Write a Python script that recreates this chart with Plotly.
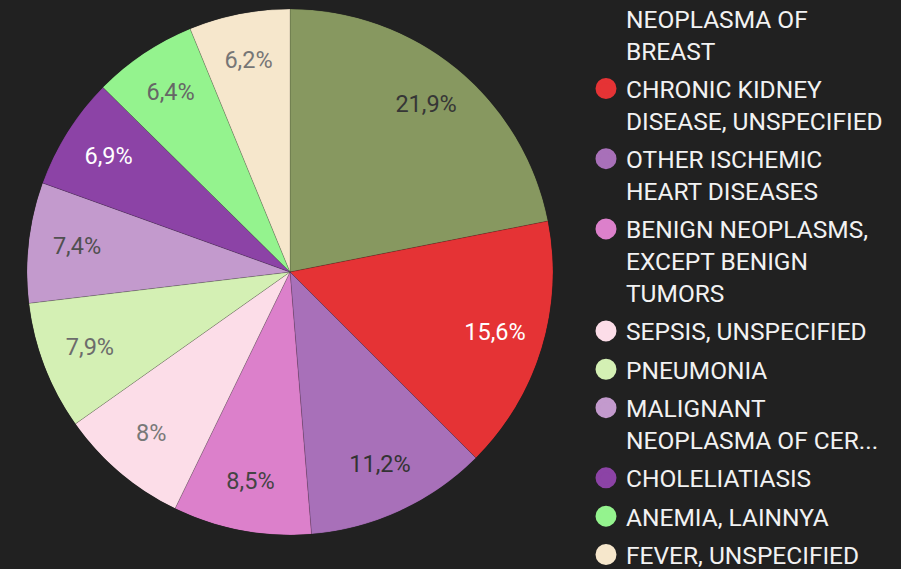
import plotly.graph_objects as go

categories = [
    "MALIGNANT<br>NEOPLASMA OF<br>BREAST",
    "CHRONIC KIDNEY<br>DISEASE, UNSPECIFIED",
    "OTHER ISCHEMIC<br>HEART DISEASES",
    "BENIGN NEOPLASMS,<br>EXCEPT BENIGN<br>TUMORS",
    "SEPSIS, UNSPECIFIED",
    "PNEUMONIA",
    "MALIGNANT<br>NEOPLASMA OF CER...",
    "CHOLELIATIASIS",
    "ANEMIA, LAINNYA",
    "FEVER, UNSPECIFIED",
]
values = [21.9, 15.6, 11.2, 8.5, 8.0, 7.9, 7.4, 6.9, 6.4, 6.2]
colors = ["#879860", "#E53335", "#A870B9", "#DC80CB", "#FCDDE8",
          "#D4F0B4", "#C39ACD", "#8C43A6", "#94F38E", "#F6E7CC"]
label_colors = ["#363636", "#FFFFFF", "#333333", "#444444", "#787878",
                "#6C6C6C", "#505050", "#FFFFFF", "#666666", "#767676"]

pct_text = [f"{v:g}".replace(".", ",") + "%" for v in values]

# angular geometry of the slices (degrees, clockwise from 12 o'clock)
total = sum(values)
widths = [v / total * 360 for v in values]
mids = []
acc = 0.0
for w in widths:
    mids.append(acc + w / 2)
    acc += w

W, H = 901, 569
fig = go.Figure()
fig.add_trace(go.Barpolar(
    r=[1] * len(values), theta=mids, width=widths, base=0,
    marker=dict(color=colors, line=dict(color="rgba(0,0,0,0.25)", width=0.6)),
    showlegend=False, hoverinfo="skip",
))
fig.add_trace(go.Scatterpolar(
    r=[0.815] * len(values), theta=mids, mode="text", text=pct_text,
    textposition="middle center",
    textfont=dict(family="Roboto", size=23.5, color=label_colors),
    showlegend=False, hoverinfo="skip",
))
for i, (name, c) in enumerate(zip(categories, colors)):
    fig.add_trace(go.Scatterpolar(
        r=[None], theta=[None], mode="markers", name=name, legendgroup=f"g{i}",
        marker=dict(color=c, size=16, symbol="circle", line=dict(color=c, width=5)),
    ))

fig.update_layout(
    width=W, height=H,
    paper_bgcolor="#212121",
    margin=dict(l=0, r=0, t=9, b=34, autoexpand=False),
    polar=dict(
        domain=dict(x=[27 / W, 553 / W], y=[0, 1]),
        bgcolor="rgba(0,0,0,0)", hole=0,
        angularaxis=dict(visible=False, rotation=90, direction="clockwise"),
        radialaxis=dict(visible=False, range=[0, 1]),
    ),
    legend=dict(
        x=586 / W, xanchor="left", y=-42 / 526, yanchor="bottom",
        font=dict(family="Roboto", size=24.5, color="#F2F2F2"),
        bgcolor="rgba(0,0,0,0)", maxheight=3000, tracegroupgap=3.5,
        valign="top", traceorder="grouped",
    ),
)
fig.write_html("out.html", config={"displayModeBar": False},
               post_script="document.body.style.margin='0';document.body.style.overflow='hidden';")
